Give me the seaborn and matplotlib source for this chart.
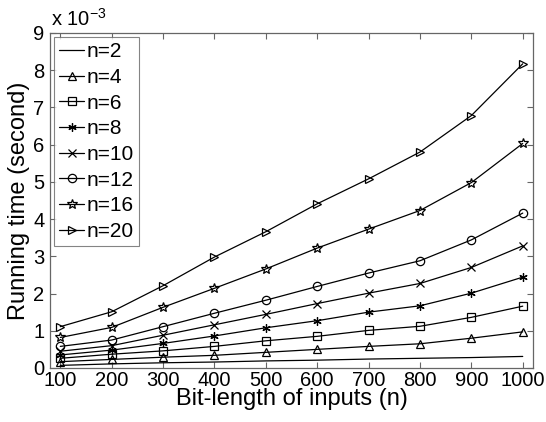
import matplotlib
matplotlib.use("Agg")
import matplotlib.pyplot as plt
import seaborn as sns
import pandas as pd

# Bit-length of inputs
bit_lengths = [100, 200, 300, 400, 500, 600, 700, 800, 900, 1000]

# Running times in units of 1e-3 seconds, one list per n
t_n2 = [0.07, 0.11, 0.14, 0.16, 0.19, 0.21, 0.24, 0.26, 0.28, 0.31]
t_n4 = [0.17, 0.23, 0.29, 0.34, 0.42, 0.50, 0.58, 0.65, 0.80, 0.97]
t_n6 = [0.26, 0.37, 0.46, 0.58, 0.73, 0.85, 1.01, 1.12, 1.36, 1.66]
t_n8 = [0.35, 0.48, 0.66, 0.86, 1.08, 1.27, 1.50, 1.67, 2.01, 2.44]
t_n10 = [0.45, 0.60, 0.88, 1.16, 1.44, 1.73, 2.01, 2.27, 2.70, 3.28]
t_n12 = [0.58, 0.75, 1.11, 1.47, 1.82, 2.19, 2.55, 2.88, 3.44, 4.16]
t_n16 = [0.82, 1.09, 1.63, 2.14, 2.66, 3.22, 3.73, 4.23, 4.98, 6.03]
t_n20 = [1.11, 1.51, 2.21, 2.98, 3.66, 4.41, 5.08, 5.80, 6.78, 8.17]

series_labels = ["n=2", "n=4", "n=6", "n=8", "n=10", "n=12", "n=16", "n=20"]
series_values = [t_n2, t_n4, t_n6, t_n8, t_n10, t_n12, t_n16, t_n20]
series_markers = ["", "^", "s", (6, 2, 0), "x", "o", "*", ">"]

sns.set_theme(style="white", rc={"text.color": "black",
                                 "axes.labelcolor": "black",
                                 "xtick.color": "black",
                                 "ytick.color": "black"})
plt.rcParams["font.family"] = ["Liberation Sans", "DejaVu Sans"]
plt.rcParams["mathtext.fontset"] = "custom"
plt.rcParams["mathtext.rm"] = "Liberation Sans"

fig = plt.figure(figsize=(5.46, 4.22), dpi=100)
ax = fig.add_axes([0.0916, 0.128, 0.8846, 0.794])

for label, values, marker in zip(series_labels, series_values, series_markers):
    df = pd.DataFrame({"bits": bit_lengths, "time": values})
    sns.lineplot(data=df, x="bits", y="time", ax=ax, color="black",
                 linewidth=0.9, marker=marker if marker else None,
                 markersize=6 if marker != "*" else 7,
                 markerfacecolor="none", markeredgecolor="black",
                 markeredgewidth=0.9, label=label)

ax.set_xlim(80, 1020)
ax.set_ylim(0, 9)
ax.set_xticks(bit_lengths)
ax.set_yticks(range(0, 10))
ax.set_xlabel("Bit-length of inputs (n)", fontsize=17, labelpad=-1)
ax.set_ylabel("Running time (second)", fontsize=17, labelpad=2)
ax.tick_params(axis="both", which="both", direction="in", length=4,
               width=0.8, color="#666666", labelcolor="black", labelsize=14.5,
               top=True, right=True, bottom=True, left=True)
ax.tick_params(axis="x", pad=2)
ax.tick_params(axis="y", pad=4)
for spine in ax.spines.values():
    spine.set_color("#666666")
    spine.set_linewidth(0.9)

ax.text(0.002, 1.008, "x 10$^{-3}$", transform=ax.transAxes, fontsize=14.5,
        ha="left", va="bottom", color="black")

leg = ax.legend(loc="upper left", fontsize=15, frameon=True, fancybox=False,
                handlelength=1.2, handletextpad=0.1, borderpad=0.25,
                labelspacing=0.32, borderaxespad=0.2)
leg.get_frame().set_edgecolor("#666666")
leg.get_frame().set_linewidth(0.8)
for txt in leg.get_texts():
    txt.set_color("black")

fig.savefig("out.png", dpi=100)
